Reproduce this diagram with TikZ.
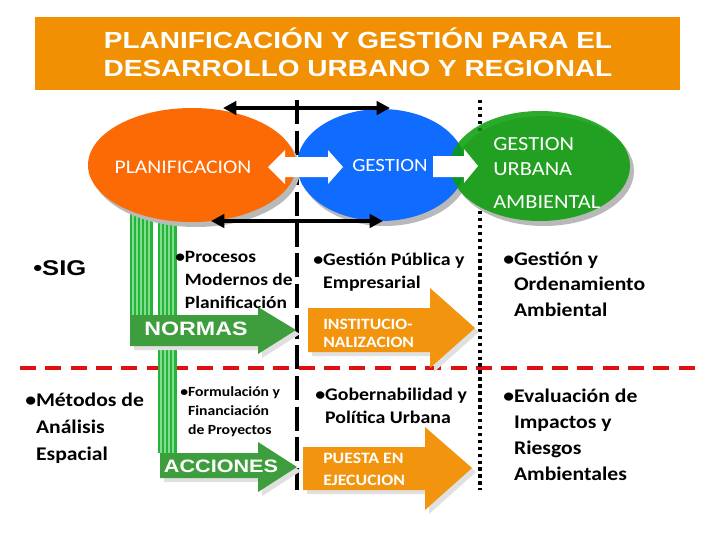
\documentclass[tikz,border=0pt]{standalone}
\usepackage{fontspec}
\setmainfont{Carlito}[FakeStretch=1.12]
\newfontfamily\arialbf{Liberation Sans Bold}[FakeStretch=1.2]
\usetikzlibrary{arrows.meta}
\newcommand{\hb}{\phantom{\textbullet}}

\begin{document}
\begin{tikzpicture}[x=0.75pt,y=0.75pt,yscale=-1,xscale=1,
  bullettext/.style={anchor=base west,inner sep=0pt,align=left,text=black},
  elltext/.style={inner sep=0pt,text=white},
  flechatext/.style={inner sep=0pt,text=white,font=\arialbf\fontsize{14}{17}\selectfont},
  sombra/.style={fill={rgb, 255:red, 185; green, 185; blue, 185 }},
  sombraflecha/.style={fill={rgb, 255:red, 224; green, 224; blue, 224 }},
  flechaverde/.style={fill={rgb, 255:red, 62; green, 158; blue, 62 }},
  flechanaranja/.style={fill={rgb, 255:red, 242; green, 148; blue, 14 }},
  barra/.style={fill={rgb, 255:red, 36; green, 180; blue, 60 }},
  raya/.style={draw={rgb, 255:red, 130; green, 222; blue, 140 },line width=1pt},
  doble/.style={line width=2.5pt,{Triangle[length=10pt,width=10pt]}-{Triangle[length=10pt,width=10pt]}}
]
\useasboundingbox (0,0) rectangle (720,540);
\fill [white] (0,0) rectangle (720,540);

%Shape: Rectangle (title)
\fill [fill={rgb, 255:red, 241; green, 144; blue, 2 }] (35,17) rectangle (680,90);
% Text Node
\node (title) at (358,52) [inner sep=0pt,align=center,text=white,font=\arialbf\fontsize{17.5}{21}\selectfont] {PLANIFICACIÓN Y GESTIÓN PARA EL\\DESARROLLO URBANO Y REGIONAL};

%Line: red dashed
\draw [draw={rgb, 255:red, 222; green, 16; blue, 16 },line width=3.5pt,dash pattern=on 12pt off 7pt] (20,368) -- (700,368);
%Line: black dashed
\draw [line width=3pt,dash pattern=on 18pt off 5pt] (297,100) -- (297,490);
%Line: black dotted
\draw [line width=3pt,dash pattern=on 2.6pt off 2.6pt] (480,100) -- (480,490);

%Shape: green bars
\fill [barra] (130,200) rectangle (153,315);
\fill [barra] (158,200) rectangle (177,453);
\foreach \sx in {133,137,141,145,149} \draw [raya] (\sx,200) -- (\sx,315);
\foreach \sx in {161,165,169,173} \draw [raya] (\sx,200) -- (\sx,453);

%Shape: Ellipse shadows
\fill [sombra] (196,170) ellipse [x radius=104, y radius=57];
\fill [sombra] (385,170) ellipse [x radius=84, y radius=56];
\fill [sombra] (544,171) ellipse [x radius=90, y radius=55];
%Shape: Ellipse
\fill [fill={rgb, 255:red, 252; green, 106; blue, 6 }] (192,165) ellipse [x radius=104, y radius=57];
\fill [fill={rgb, 255:red, 16; green, 108; blue, 255 }] (381,165) ellipse [x radius=84, y radius=56];
\fill [fill={rgb, 255:red, 8; green, 156; blue, 8 },fill opacity=0.85] (540,166) ellipse [x radius=90, y radius=55];

%Arrows between ellipses
\coordinate (topl) at (223,108);
\coordinate (topr) at (390,108);
\coordinate (botl) at (211,221);
\coordinate (botr) at (383,221);
\draw [doble] (topl) -- (topr);
\draw [doble] (botl) -- (botr);

%Right Arrow (white, double)
\fill [white] (268,167) -- (285,150) -- (285,157) -- (328,157) -- (328,150) -- (343,167) -- (328,184) -- (328,177) -- (285,177) -- (285,184) -- cycle ;
%Right Arrow (white)
\fill [white] (433,156) -- (464,156) -- (464,149) -- (478,166) -- (464,183) -- (464,177) -- (433,177) -- cycle ;

% Text Node
\node (plan) at (183,167) [elltext,font=\fontsize{14.5}{17}\selectfont] {PLANIFICACION};
% Text Node
\node (gest) at (390,166) [elltext,font=\fontsize{14}{17}\selectfont] {GESTION};
% Text Node
\node (gua) at (493,208) [elltext,anchor=base west,align=left,font=\fontsize{15}{18.75}\selectfont] {GESTION\\URBANA\\[6pt]AMBIENTAL};

%Right Arrow NORMAS
\fill [sombraflecha] (134,319) -- (262,319) -- (262,311) -- (300,334) -- (262,358) -- (262,350) -- (134,350) -- cycle ;
\fill [flechaverde] (130,315) -- (258,315) -- (258,307) -- (296,330) -- (258,354) -- (258,346) -- (130,346) -- cycle ;
%Right Arrow ACCIONES
\fill [sombraflecha] (164,457) -- (262,457) -- (262,446) -- (301,471) -- (262,496) -- (262,482) -- (164,482) -- cycle ;
\fill [flechaverde] (160,453) -- (258,453) -- (258,442) -- (297,467) -- (258,492) -- (258,478) -- (160,478) -- cycle ;
%Right Arrow INSTITUCIONALIZACION
\fill [sombraflecha] (312,312) -- (434,312) -- (434,292) -- (479,332) -- (434,372) -- (434,356) -- (312,356) -- cycle ;
\fill [flechanaranja] (308,308) -- (430,308) -- (430,288) -- (475,328) -- (430,368) -- (430,352) -- (308,352) -- cycle ;
%Right Arrow PUESTA EN EJECUCION
\fill [sombraflecha] (307,451) -- (429,451) -- (429,431) -- (476,472) -- (429,514) -- (429,494) -- (307,494) -- cycle ;
\fill [flechanaranja] (303,447) -- (425,447) -- (425,427) -- (472,468) -- (425,510) -- (425,490) -- (303,490) -- cycle ;

% Text Node
\node (normas) at (196,329) [flechatext,font=\arialbf\fontsize{14.5}{17}\selectfont] {NORMAS};
% Text Node
\node (acciones) at (221,466) [flechatext,font=\arialbf\fontsize{13.5}{17}\selectfont] {ACCIONES};
% Text Node
\node (instit) at (323,347) [elltext,anchor=base west,align=left,font=\bfseries\fontsize{11.8}{12.8}\selectfont] {INSTITUCIO-\\NALIZACION};
% Text Node
\node (puesta) at (323,485) [elltext,anchor=base west,align=left,font=\bfseries\fontsize{11.9}{16.5}\selectfont] {PUESTA EN\\EJECUCION};

% Text Node
\node (sig) at (33,275) [bullettext,font=\arialbf\fontsize{16}{19}\selectfont] {\textbullet SIG};
% Text Node
\node (procesos) at (175,308) [bullettext,font=\bfseries\fontsize{13}{17.25}\selectfont] {\textbullet Procesos\\\hb Modernos de\\\hb Planificación};
% Text Node
\node (gestpub) at (313,288) [bullettext,font=\bfseries\fontsize{13.3}{17.25}\selectfont] {\textbullet Gestión Pública y\\\hb Empresarial};
% Text Node
\node (gestord) at (503,316) [bullettext,font=\bfseries\fontsize{14.5}{19.1}\selectfont] {\textbullet Gestión y\\\hb Ordenamiento\\\hb Ambiental};
% Text Node
\node (metodos) at (25,460) [bullettext,font=\bfseries\fontsize{14.5}{19.9}\selectfont] {\textbullet Métodos de\\\hb Análisis\\\hb Espacial};
% Text Node
\node (formul) at (180,434) [bullettext,font=\bfseries\fontsize{10.5}{13.9}\selectfont] {\textbullet Formulación y\\\hb Financiación\\\hb de Proyectos};
% Text Node
\node (gobern) at (315,423) [bullettext,font=\bfseries\fontsize{13.3}{17.25}\selectfont] {\textbullet Gobernabilidad y\\\hb Política Urbana};
% Text Node
\node (evalua) at (503,480) [bullettext,font=\bfseries\fontsize{14.5}{19.5}\selectfont] {\textbullet Evaluación de\\\hb Impactos y\\\hb Riesgos\\\hb Ambientales};

\end{tikzpicture}
\end{document}
